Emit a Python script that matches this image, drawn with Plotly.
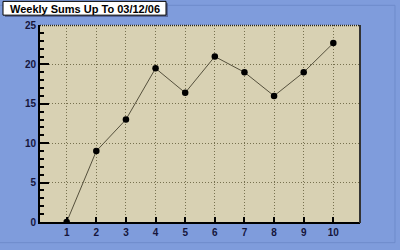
import plotly.graph_objects as go

weeks = [1, 2, 3, 4, 5, 6, 7, 8, 9, 10]
sums = [0, 9, 13, 19.5, 16.4, 21, 19, 16, 19, 22.7]
title_text = "Weekly Sums Up To 03/12/06"

W, H = 400, 250
ML, MR, MT, MB = 40, 40, 25, 25
PW, PH = W - ML - MR, H - MT - MB

def px(x):
    return (x - ML) / PW

def py(y):
    return (H - MB - y) / PH

fig = go.Figure()
fig.add_trace(go.Scatter(
    x=weeks, y=sums, mode="lines+markers",
    line=dict(color="#55503c", width=1),
    marker=dict(color="black", size=6.5),
    hoverinfo="skip", showlegend=False,
))

tickfont = dict(family="Liberation Sans, Arial, sans-serif", size=10, color="#16163c", weight="bold")
gridcolor = "#77714f"

fig.update_layout(
    width=W, height=H,
    margin=dict(l=ML, r=MR, t=MT, b=MB, pad=0),
    paper_bgcolor="#7f9cdc",
    plot_bgcolor="#d8d1b3",
    xaxis=dict(
        range=[0.1, 10.9], tickvals=weeks, ticks="inside", ticklen=5, tickwidth=2,
        tickcolor="black", showline=True, linecolor="black", linewidth=2,
        showgrid=True, gridcolor=gridcolor, griddash="1px,2px", gridwidth=1,
        zeroline=False, tickfont=tickfont, fixedrange=True,
    ),
    yaxis=dict(
        range=[0, 25], dtick=5, ticks="inside", ticklen=9, tickwidth=2,
        tickcolor="black", showline=True, linecolor="black", linewidth=2,
        showgrid=True, gridcolor=gridcolor, griddash="1px,2px", gridwidth=1,
        zeroline=False, tickfont=tickfont, fixedrange=True,
        minor=dict(dtick=1, ticks="inside", ticklen=4, tickwidth=1.5, tickcolor="black", showgrid=False),
    ),
)

shapes = []
# outer frame
shapes.append(dict(type="rect", xref="paper", yref="paper",
                   x0=px(-2), x1=px(395), y0=py(246), y1=py(5),
                   line=dict(color="#6e8bcb", width=1), fillcolor="rgba(0,0,0,0)", layer="below"))
# plot right border
shapes.append(dict(type="rect", xref="paper", yref="paper",
                   x0=px(359), x1=px(361), y0=py(226), y1=py(25),
                   line=dict(width=0), fillcolor="#333333", layer="above"))
shapes.append(dict(type="line", xref="paper", yref="paper",
                   x0=px(40), x1=px(360), y0=py(25.5), y1=py(25.5),
                   line=dict(color="#222222", width=1.5, dash="1px,1px"), layer="above"))
# title box shadow
shapes.append(dict(type="rect", xref="paper", yref="paper",
                   x0=px(5), x1=px(168), y0=py(17), y1=py(3),
                   line=dict(width=0), fillcolor="#55669a", layer="above"))
# title box
shapes.append(dict(type="rect", xref="paper", yref="paper",
                   x0=px(3), x1=px(166), y0=py(15), y1=py(1),
                   line=dict(color="black", width=1), fillcolor="white", layer="above"))
fig.update_layout(shapes=shapes)

fig.add_annotation(
    text=title_text, xref="paper", yref="paper",
    x=px(84.5), y=py(8.5), xanchor="center", yanchor="middle", showarrow=False,
    font=dict(family="Liberation Sans, Arial, sans-serif", size=11, color="black", weight="bold"),
)

fig.write_html("out.html", config={"displayModeBar": False})
